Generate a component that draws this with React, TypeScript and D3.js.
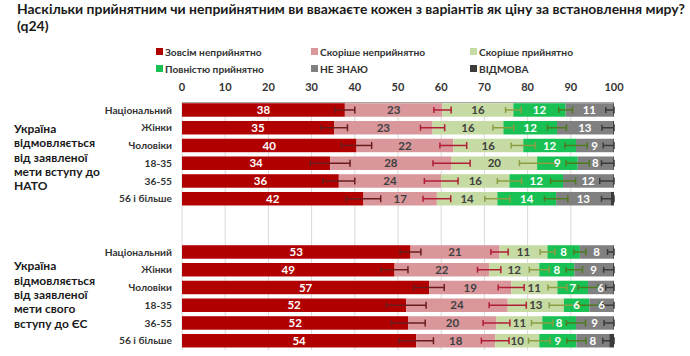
import React from 'react';
import * as d3 from 'd3';

const title1 = 'Наскільки прийнятним чи неприйнятним ви вважаєте кожен з варіантів як ціну за встановлення миру?';
const title2 = '(q24)';
const categories = ['Зовсім неприйнятно', 'Скоріше неприйнятно', 'Скоріше прийнятно', 'Повністю прийнятно', 'НЕ ЗНАЮ', 'ВІДМОВА'];
const colors = ['#b00000', '#d9979b', '#c6dba3', '#19c154', '#808080', '#3c3c3c'];
const labelColors = ['#ffffff', '#404040', '#404040', '#ffffff', '#ffffff', '#ffffff'];
const errColors = ['#6a1c1c', '#b01e35', '#8c9d44', '#4f7a20', '#3a3a3a'];
const rowLabels = ['Національний', 'Жінки', 'Чоловіки', '18-35', '36-55', '56 і більше'];
const groupLabels = [
  ['Україна', 'відмовляється', 'від заявленої', 'мети вступу до', 'НАТО'],
  ['Україна', 'відмовляється', 'від заявленої', 'мети свого', 'вступу до ЄС'],
];
const natoValues = [
  [37.7, 22.6, 16.4, 12.1, 11.0, 0.2],
  [35.2, 22.8, 16.4, 12.4, 12.9, 0.3],
  [40.4, 22.4, 16.2, 12.2, 8.6, 0.2],
  [34.3, 28.1, 19.8, 9.4, 8.2, 0.2],
  [36.3, 23.7, 15.8, 12.4, 11.6, 0.2],
  [42.0, 17.0, 14.0, 13.6, 12.6, 0.8],
];
const natoErrors = [
  [2.3, 2.0, 1.8, 1.6, 1.7],
  [3.1, 2.8, 2.4, 2.2, 2.5],
  [3.5, 3.1, 2.8, 2.6, 2.3],
  [4.6, 4.3, 4.1, 2.7, 2.7],
  [3.7, 3.9, 2.8, 2.9, 3.1],
  [4.0, 3.2, 2.9, 2.7, 2.1],
];
const euValues = [
  [52.9, 20.6, 11.1, 7.5, 7.7, 0.2],
  [49.2, 21.9, 11.6, 8.1, 8.9, 0.3],
  [57.2, 19.0, 10.7, 7.1, 5.8, 0.2],
  [51.9, 23.5, 13.0, 5.9, 5.6, 0.1],
  [52.4, 20.4, 10.6, 7.8, 8.6, 0.2],
  [54.2, 18.3, 10.2, 8.6, 7.6, 1.1],
];
const euErrors = [
  [2.4, 2.0, 1.7, 1.4, 1.3],
  [3.1, 2.7, 2.3, 1.9, 2.1],
  [3.5, 3.0, 2.2, 2.3, 1.7],
  [4.6, 4.3, 3.4, 2.4, 2.5],
  [3.9, 3.1, 2.5, 2.2, 2.1],
  [4.0, 3.2, 2.5, 2.2, 1.5],
];
const ticks = [0, 10, 20, 30, 40, 50, 60, 70, 80, 90, 100];

const FONT = 'Lato, "Open Sans", sans-serif';

export default function App() {
  const W = 690, H = 356;
  const x = d3.scaleLinear().domain([0, 100]).range([182, 614]);
  const slots = d3.range(14);
  const y = d3.scaleBand<number>().domain(slots).range([101.1, 349.6]).paddingInner(0.24).paddingOuter(0.12);
  const rows: { label: string; vals: number[]; errs: number[]; slot: number }[] = [];
  natoValues.forEach((v, i) => rows.push({ label: rowLabels[i], vals: v, errs: natoErrors[i], slot: i }));
  euValues.forEach((v, i) => rows.push({ label: rowLabels[i], vals: v, errs: euErrors[i], slot: i + 8 }));
  const bh = y.bandwidth();

  const legendPos = [
    [156, 52], [311, 52], [470, 52],
    [156, 69], [311, 69], [470, 69],
  ];

  return (
    <svg width={W} height={H} style={{ position: 'absolute', left: 0, top: 0, background: '#fff' }} fontFamily={FONT}>
      <text x={17} y={13.5} fontSize={14} fontWeight={700} fill="#1a1a1a" textLength={668} lengthAdjust="spacingAndGlyphs">{title1}</text>
      <text x={17} y={31} fontSize={14} fontWeight={700} fill="#1a1a1a">{title2}</text>

      {categories.map((c, i) => (
        <g key={c}>
          <rect x={legendPos[i][0]} y={legendPos[i][1] - 4} width={7} height={7} fill={colors[i]} />
          <text x={legendPos[i][0] + 9} y={legendPos[i][1]} dy="0.35em" fontSize={10.2} fontWeight={700} fill="#333">{c}</text>
        </g>
      ))}

      {ticks.map(t => (
        <g key={t}>
          <text x={x(t)} y={87} dy="0.35em" textAnchor="middle" fontSize={11} fontWeight={700} fill="#333">{t}</text>
          {t < 100 && <line x1={x(t)} x2={x(t)} y1={102} y2={350} stroke="#d9d9d9" strokeWidth={1} />}
        </g>
      ))}
      <line x1={x(0)} x2={x(100)} y1={102.5} y2={102.5} stroke="#a6a6a6" strokeWidth={1} />

      {groupLabels.map((g, gi) => (
        <g key={gi}>
          {g.map((l, li) => (
            <text key={li} x={14} y={(gi === 0 ? 128.5 : 266) + li * 14.4} dy="0.35em" fontSize={12} fontWeight={700} fill="#1a1a1a">{l}</text>
          ))}
        </g>
      ))}

      {rows.map((r, ri) => {
        const y0 = y(r.slot) as number;
        const cy = y0 + bh / 2;
        const cum = d3.cumsum(r.vals);
        const starts = [0, ...Array.from(cum).slice(0, -1)];
        return (
          <g key={ri}>
            <text x={172} y={cy} dy="0.35em" textAnchor="end" fontSize={10.2} fontWeight={700} fill="#333">{r.label}</text>
            {r.vals.map((v, i) => (
              <rect key={i} x={x(starts[i])} y={y0} width={x(starts[i] + v) - x(starts[i])} height={bh} fill={colors[i]} />
            ))}
            {r.errs.map((e, i) => {
              const c = cum[i];
              const a = x(c - e), b = x(Math.min(c + e, 100));
              return (
                <g key={'e' + i} stroke={errColors[i]} strokeWidth={1.5}>
                  <line x1={a} x2={b} y1={cy} y2={cy} />
                  <line x1={a} x2={a} y1={cy - 3} y2={cy + 3} />
                  <line x1={b} x2={b} y1={cy - 3.5} y2={cy + 3.5} />
                </g>
              );
            })}
            {r.vals.slice(0, 5).map((v, i) => (
              <text key={'t' + i} x={x(starts[i] + v / 2)} y={cy} dy="0.36em" textAnchor="middle" fontSize={11.5} fontWeight={700} fill={labelColors[i]}>{Math.round(v)}</text>
            ))}
          </g>
        );
      })}
    </svg>
  );
}
